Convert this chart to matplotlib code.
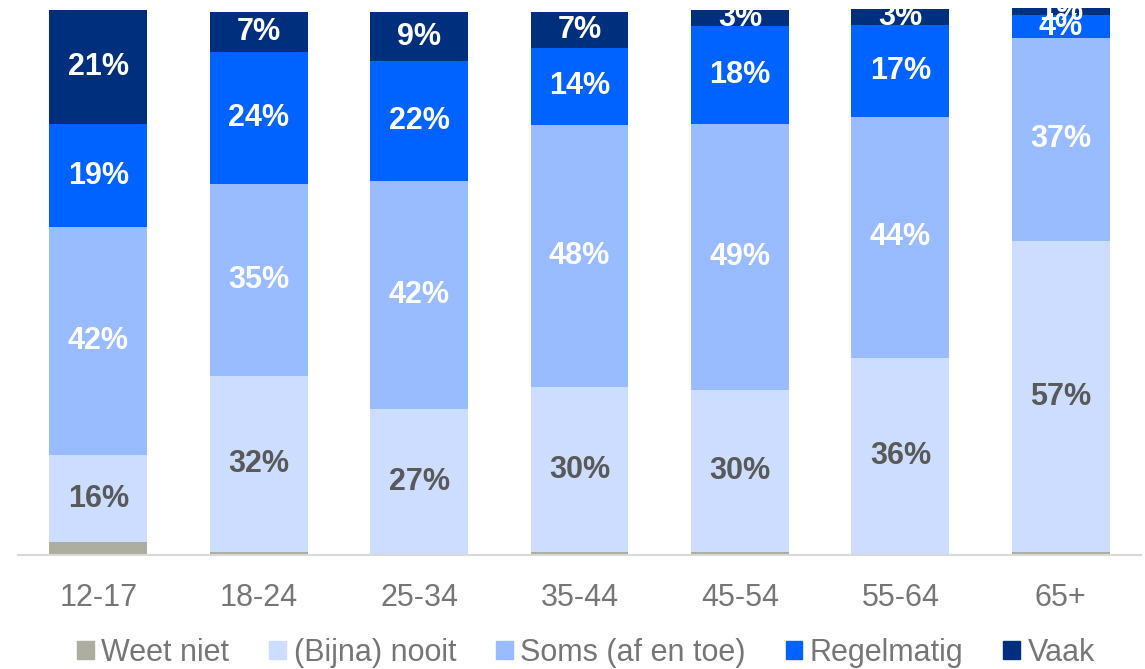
import matplotlib.pyplot as plt
from matplotlib.patches import Patch

plt.rcParams['font.family'] = ['Liberation Sans', 'DejaVu Sans']

groups = ["12-17", "18-24", "25-34", "35-44", "45-54", "55-64", "65+"]
weet_niet = [2.4, 0.5, 0, 0.5, 0.5, 0, 0.5]
nooit = [16.0, 32.4, 27.0, 30.4, 30.0, 36.4, 57.4]
soms = [42.0, 35.4, 42.0, 48.4, 49.0, 44.3, 37.4]
regelmatig = [19.0, 24.4, 22.0, 14.2, 18.0, 17.0, 4.2]
vaak = [21.0, 7.3, 9.0, 6.6, 3.0, 3.0, 1.3]

series = [
    ("Weet niet", weet_niet, "#ADADA0", None),
    ("(Bijna) nooit", nooit, "#CCDDFF", "#595959"),
    ("Soms (af en toe)", soms, "#99BBFF", "white"),
    ("Regelmatig", regelmatig, "#0062FF", "white"),
    ("Vaak", vaak, "#00307D", "white"),
]

fig = plt.figure(figsize=(11.45, 6.69), dpi=100)
ax = fig.add_axes([18 / 1145, 114 / 669, 1123 / 1145, 548 / 669])

x = list(range(len(groups)))
bottom = [0] * len(groups)
for name, vals, color, tcolor in series:
    ax.bar(x, vals, bottom=bottom, width=0.61, color=color, label=name)
    if tcolor:
        for xi, b, v in zip(x, bottom, vals):
            ax.text(xi, b + v / 2, f"{round(v)}%", ha="center", va="center",
                    color=tcolor, fontsize=22, fontweight="bold")
    bottom = [b + v for b, v in zip(bottom, vals)]

ax.set_xlim(-0.5, 6.5)
ax.set_ylim(0, 101)
ax.set_yticks([])
ax.set_xticks(x)
ax.set_xticklabels(groups, fontsize=22, color="#767676")
ax.tick_params(axis="x", length=0, pad=20)
for s in ["top", "right", "left"]:
    ax.spines[s].set_visible(False)
ax.spines["bottom"].set_color("#D9D9D9")
ax.spines["bottom"].set_linewidth(1.5)

handles = [Patch(color=c, label=n) for n, _, c, _ in series]
fig.legend(handles=handles, loc="center", bbox_to_anchor=(586 / 1145, 1 - 653 / 669),
           ncol=5, frameon=False, fontsize=22, labelcolor="#767676",
           handlelength=0.55, handleheight=0.55, handletextpad=0.25,
           columnspacing=1.3, borderaxespad=0)

fig.savefig("out.png", dpi=100)
